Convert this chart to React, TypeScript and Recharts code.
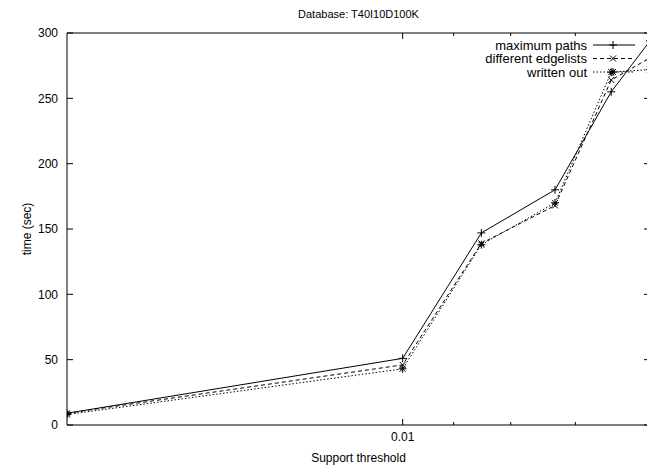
import React from 'react';
import { LineChart, Line, XAxis, YAxis, ReferenceArea, Legend } from 'recharts';

// support thresholds (log axis, reversed: high support on the left)
const supportThresholds = [0.02, 0.01, 0.0085, 0.0073, 0.0065, 0.006];
const maximumPaths = [9, 51, 147, 180, 255, 294];
const differentEdgelists = [9, 46, 139, 168, 264, 281];
const writtenOut = [8, 43, 138, 170, 270, 272];

const xTicks = [0.01, 0.009, 0.008, 0.007];
const xLabelledTicks = [0.01];
const yTicks = [0, 50, 100, 150, 200, 250, 300];

const TITLE = 'Database: T40I10D100K';
const FONT = '"Liberation Sans", Arial, Helvetica, sans-serif';
const INK = '#000';

const CHART_W = 660;
const CHART_H = 470;
const MARGIN = { top: 33, right: 10, bottom: 0, left: 0 };
const Y_AXIS_W = 67;
const X_AXIS_H = 45;
const PLOT_W = CHART_W - MARGIN.left - MARGIN.right - Y_AXIS_W;
const PLOT_H = CHART_H - MARGIN.top - MARGIN.bottom - X_AXIS_H;

const data = supportThresholds.map((s, i) => ({
  support: s,
  maxPaths: maximumPaths[i],
  edgelists: differentEdgelists[i],
  written: writtenOut[i],
}));

const PlusDot = ({ cx, cy }: any) =>
  cx == null ? null : (
    <path d={`M${cx - 4},${cy}h8M${cx},${cy - 4}v8`} stroke={INK} strokeWidth={1} fill="none" />
  );

const CrossDot = ({ cx, cy }: any) =>
  cx == null ? null : (
    <path d={`M${cx - 3},${cy - 3}l6,6M${cx - 3},${cy + 3}l6,-6`} stroke={INK} strokeWidth={1} fill="none" />
  );

const StarDot = ({ cx, cy }: any) =>
  cx == null ? null : (
    <path
      d={`M${cx - 4},${cy}h8M${cx},${cy - 4}v8M${cx - 3},${cy - 3}l6,6M${cx - 3},${cy + 3}l6,-6`}
      stroke={INK}
      strokeWidth={1}
      fill="none"
    />
  );

const series = [
  { key: 'maxPaths', name: 'maximum paths', dash: undefined, Dot: PlusDot },
  { key: 'edgelists', name: 'different edgelists', dash: '4 3', Dot: CrossDot },
  { key: 'written', name: 'written out', dash: '1.5 2', Dot: StarDot },
];

// gnuplot style: ticks point inwards and are mirrored on the opposite border
const XTick = ({ x, y, payload }: any) => {
  const major = xLabelledTicks.includes(payload.value);
  const len = major ? 6 : 3;
  return (
    <g>
      <line x1={x} x2={x} y1={y} y2={y - len} stroke={INK} />
      <line x1={x} x2={x} y1={y - PLOT_H} y2={y - PLOT_H + len} stroke={INK} />
      {major && (
        <text x={x} y={y + 16} textAnchor="middle" fontSize={12} fontFamily={FONT} fill={INK}>
          {payload.value}
        </text>
      )}
    </g>
  );
};

const YTick = ({ x, y, payload }: any) => (
  <g>
    <line x1={x} x2={x + 6} y1={y} y2={y} stroke={INK} />
    <line x1={x + PLOT_W} x2={x + PLOT_W - 6} y1={y} y2={y} stroke={INK} />
    <text x={x - 9} y={y} dy="0.35em" textAnchor="end" fontSize={12} fontFamily={FONT} fill={INK}>
      {payload.value}
    </text>
  </g>
);

const LegendBox = () => (
  <svg width={207} height={50}>
    {series.map((s, i) => {
      const cy = 10 + i * 13.5;
      const D = s.Dot;
      return (
        <g key={s.key}>
          <text x={147} y={cy} dy="0.35em" textAnchor="end" fontSize={13} fontFamily={FONT} fill={INK}>
            {s.name}
          </text>
          <line x1={153} x2={195} y1={cy} y2={cy} stroke={INK} strokeDasharray={s.dash} />
          <D cx={173} cy={cy} />
        </g>
      );
    })}
  </svg>
);

export default function App() {
  return (
    <div style={{ position: 'absolute', left: 0, top: 0, width: 647, height: 470, overflow: 'hidden', background: '#fff' }}>
      <LineChart width={CHART_W} height={CHART_H} data={data} margin={MARGIN}>
        <XAxis
          dataKey="support"
          type="number"
          scale="log"
          domain={[0.006, 0.02]}
          reversed
          allowDataOverflow
          ticks={xTicks}
          interval={0}
          tick={<XTick />}
          tickLine={false}
          axisLine={false}
          tickSize={0}
          tickMargin={0}
          height={X_AXIS_H}
          label={{ value: 'Support threshold', position: 'insideBottom', offset: 8, fontSize: 12, fontFamily: FONT, fill: INK }}
        />
        <YAxis
          type="number"
          domain={[0, 300]}
          ticks={yTicks}
          interval={0}
          tick={<YTick />}
          tickLine={false}
          axisLine={false}
          tickSize={0}
          tickMargin={0}
          width={Y_AXIS_W}
          label={{ value: 'time (sec)', angle: -90, position: 'center', dx: -7, fontSize: 12, fontFamily: FONT, fill: INK }}
        />
        <ReferenceArea
          x1={0.02}
          x2={0.006}
          y1={0}
          y2={300}
          fill="none"
          fillOpacity={0}
          stroke={INK}
          strokeWidth={1}
          ifOverflow="visible"
          label={{ value: TITLE, position: 'top', offset: 15, fontSize: 11, fontFamily: FONT, fill: INK }}
        />
        {series.map((s) => (
          <Line
            key={s.key}
            dataKey={s.key}
            name={s.name}
            type="linear"
            stroke={INK}
            strokeWidth={1}
            strokeDasharray={s.dash}
            dot={<s.Dot />}
            activeDot={false}
            isAnimationActive={false}
          />
        ))}
        <Legend
          layout="vertical"
          align="center"
          verticalAlign="middle"
          content={<LegendBox />}
          wrapperStyle={{ top: 35, left: 440, width: 207, height: 50 }}
        />
      </LineChart>
    </div>
  );
}
